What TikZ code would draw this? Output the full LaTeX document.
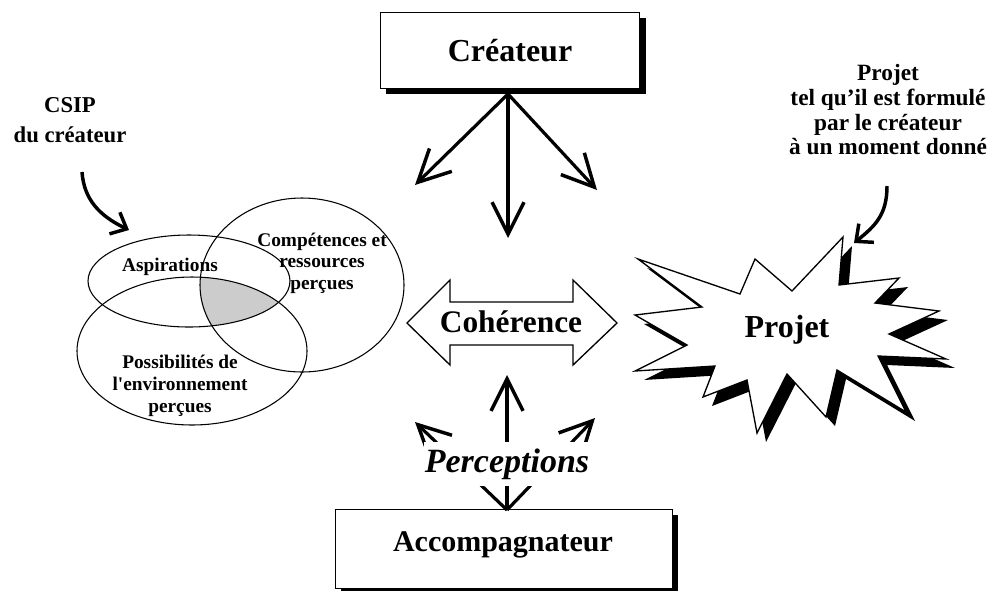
\documentclass[tikz,border=0pt]{standalone}
\usepackage{fontspec}
\setmainfont{Liberation Serif}
\usetikzlibrary{arrows.meta}
\tikzset{
  boxnode/.style={draw, line width=0.8pt, fill=white, inner sep=0pt},
  shadowfill/.style={fill=black},
  bigarrow/.style={line width=2.4pt, -{Straight Barb[length=24pt,width=24pt,line width=2.6pt]}},
  curvearrow/.style={line width=2.6pt, -{Straight Barb[length=10pt,width=18pt,line width=2.6pt]}},
  venn/.style={line width=0.8pt},
  venntext/.style={font=\bfseries\fontsize{14.5}{16}\selectfont, align=center, inner sep=0pt},
}
\begin{document}
\begin{tikzpicture}[x=0.75pt,y=-0.75pt]
\useasboundingbox (0,0) rectangle (994,590);

% ---------- Createur box ----------
\fill[shadowfill] (386,18) rectangle (646,94);
\node[boxnode, minimum width=194.25pt, minimum height=57pt, anchor=north west] (crea) at (380,12) {};
\node[font=\bfseries\fontsize{24}{28}\selectfont] (creatxt) at (crea.center) {Créateur};

% ---------- Accompagnateur box ----------
\fill[shadowfill] (341,515) rectangle (678,594);
\node[boxnode, minimum width=252.75pt, minimum height=59.25pt, anchor=north west] (acc) at (335,509) {};
\node[font=\bfseries\fontsize{22.5}{27}\selectfont] (acctxt) at (503,545) {Accompagnateur};

% ---------- Createur arrows ----------
\coordinate (co) at (508,94);
\coordinate (tl) at (415,185);
\coordinate (tc) at (508,238);
\coordinate (tr) at (597,190);
\draw[bigarrow] (co) -- (tl);
\draw[bigarrow] (co) -- (tc);
\draw[bigarrow] (co) -- (tr);

% ---------- Coherence double arrow ----------
\node[font=\bfseries\fontsize{23.5}{28}\selectfont, inner sep=0pt] (coh) at (511,322) {Cohérence};
\draw[line width=1pt, line join=miter]
  (407,323) -- (450,280) -- (450,302) -- (573,302) -- (573,280) -- (617,323)
  -- (573,365) -- (573,345) -- (450,345) -- (450,365) -- cycle;

% ---------- Accompagnateur arrows ----------
\coordinate (ao) at (507,510);
\coordinate (bl) at (415,422);
\coordinate (bc) at (507,375);
\coordinate (br) at (595,418);
\draw[bigarrow] (ao) -- (bl);
\draw[bigarrow] (ao) -- (bc);
\draw[bigarrow] (ao) -- (br);
\node[fill=white, inner xsep=1pt, inner ysep=5pt, font=\bfseries\itshape\fontsize{25.5}{30}\selectfont] (perc) at (507,464) {Perceptions};

% ---------- Venn diagram ----------
\begin{scope}
  \clip (189,281) ellipse [x radius=101, y radius=46];
  \clip (302,285) ellipse [x radius=102, y radius=87];
  \fill[gray!40] (192,351) ellipse [x radius=115, y radius=74];
\end{scope}
\draw[venn] (189,281) ellipse [x radius=101, y radius=46];
\draw[venn] (302,285) ellipse [x radius=102, y radius=87];
\draw[venn] (192,351) ellipse [x radius=115, y radius=74];
\node[venntext] (asp) at (170,267) {Aspirations};
\node[venntext] (comp) at (322,263) {Compétences et\\ressources\\perçues};
\node[venntext, font=\bfseries\fontsize{14.5}{16.5}\selectfont] (poss) at (180,386) {Possibilités de\\l\textquotesingle environnement\\perçues};

% ---------- CSIP label and arrow ----------
\node[font=\bfseries\fontsize{17}{22.5}\selectfont, align=center] (csip) at (70,120) {CSIP\\du créateur};
\coordinate (csa) at (82,172);
\coordinate (csb) at (129,230);
\draw[curvearrow] (csa) .. controls (84,200) and (100,216) .. (csb);

% ---------- Projet explosion ----------
\def\boom{(638,259) -- (740,294) -- (755,259) -- (792,291) -- (843,237) -- (839,285)
  -- (899,278) -- (875,303) -- (939,311) -- (889,334) -- (946,359) -- (878,356)
  -- (906,412) -- (837,370) -- (826,417) -- (787,374) -- (757,433) -- (747,380)
  -- (703,397) -- (715,366) -- (635,371) -- (687,345) -- (635,315) -- (702,307) -- cycle}
\begin{scope}[shift={(9,9)}]
  \fill[black] \boom;
\end{scope}
\filldraw[fill=white, draw=black, line width=1pt, line join=miter] \boom;
\node[font=\bfseries\fontsize{24}{28}\selectfont] (proj) at (787,330) {Projet};

% ---------- Projet label and arrow ----------
\node[font=\bfseries\fontsize{17.5}{18.5}\selectfont, align=center] (projlab) at (888,110)
  {Projet\\tel qu’il est formulé\\par le créateur\\à un moment donné};
\coordinate (pa) at (887,186);
\coordinate (pb) at (854,243);
\draw[curvearrow] (pa) .. controls (887,215) and (875,226) .. (pb);
\end{tikzpicture}
\end{document}
